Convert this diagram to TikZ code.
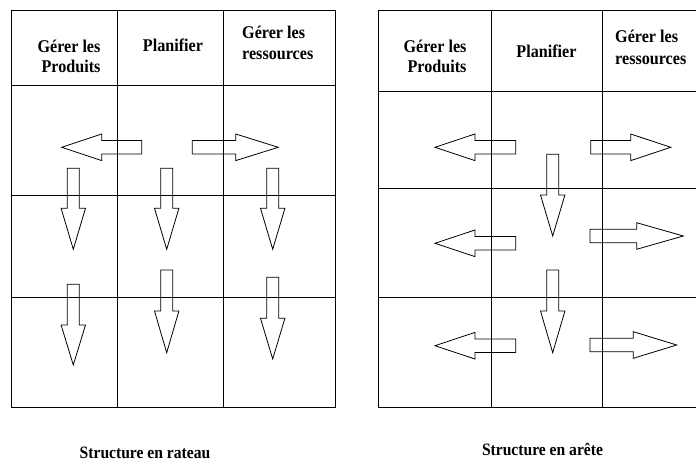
\documentclass[tikz,border=0pt]{standalone}
\usepackage{fontspec}
\setmainfont{Liberation Serif}
% bold serif set slightly condensed
\newcommand{\condensed}[1]{\scalebox{0.9}[1]{#1}}
\begin{document}
\begin{tikzpicture}[x=1bp,y=-1bp,
  gridline/.style={line width=0.8bp, black},
  blockarrow/.style={line width=0.8bp, black, line join=miter},
  head/.style={font=\bfseries\fontsize{18}{21}\selectfont, inner sep=0pt},
  caption/.style={font=\bfseries\fontsize{17.4}{20}\selectfont, inner sep=0pt}]
\useasboundingbox (0,0) rectangle (696,463);

% horizontal block arrow: tip (x,y), head base x, shaft end x
\newcommand{\hblock}[4]{%
  \draw[blockarrow] (#1,#2) -- (#3,{#2-13.3}) -- (#3,{#2-6.7}) -- (#4,{#2-6.7})
    -- (#4,{#2+6.7}) -- (#3,{#2+6.7}) -- (#3,{#2+13.3}) -- cycle;}
% vertical block arrow pointing down: tip (x,y), head base y, shaft top y
\newcommand{\vblock}[4]{%
  \draw[blockarrow] (#1,#2) -- ({#1-12.2},#3) -- ({#1-6},#3) -- ({#1-6},#4)
    -- ({#1+6},#4) -- ({#1+6},#3) -- ({#1+12.2},#3) -- cycle;}

% ---------- rake structure ----------
\draw[gridline] (11.7,10.5) rectangle (335,407);
\draw[gridline] (117,10.5) -- (117,407);
\draw[gridline] (223,10.5) -- (223,407);
\draw[gridline] (11.7,85) -- (335,85);
\draw[gridline] (11.7,195) -- (335,195);
\draw[gridline] (11.7,297) -- (335,297);

\node[head, anchor=base] (ra1) at (69,53) {\condensed{Gérer les}};
\node[head, anchor=base] (ra2) at (71,73) {\condensed{Produits}};
\node[head, anchor=base] (rb) at (173,52) {\condensed{Planifier}};
\node[head, anchor=base west] (rc1) at (242,39) {\condensed{Gérer les}};
\node[head, anchor=base west] (rc2) at (242,60) {\condensed{ressources}};

\hblock{61.7}{147.3}{101.7}{141.7}
\hblock{278.3}{147.3}{235.7}{192.3}
\vblock{73.3}{249.3}{208.3}{168.3}
\vblock{166.7}{249.3}{208.3}{168.3}
\vblock{272.7}{249.3}{208.3}{168.3}
\vblock{73.3}{365}{325}{284.3}
\vblock{166.7}{352.7}{311}{270}
\vblock{272.7}{359}{318.3}{277.3}

\node[caption, anchor=base] (rcap) at (145,458.5) {\condensed{Structure en rateau}};

% ---------- edge structure ----------
\draw[gridline] (696,10.5) -- (378,10.5) -- (378,407) -- (696,407);
\draw[gridline] (491,10.5) -- (491,407);
\draw[gridline] (602.5,10.5) -- (602.5,407);
\draw[gridline] (378,91.7) -- (696,91.7);
\draw[gridline] (378,188.3) -- (696,188.3);
\draw[gridline] (378,297.3) -- (696,297.3);

\node[head, anchor=base] (ea1) at (435,53) {\condensed{Gérer les}};
\node[head, anchor=base] (ea2) at (437,73) {\condensed{Produits}};
\node[head, anchor=base] (eb) at (546.5,58) {\condensed{Planifier}};
\node[head, anchor=base west] (ec1) at (615,43) {\condensed{Gérer les}};
\node[head, anchor=base west] (ec2) at (615,65) {\condensed{ressources}};

\hblock{435}{147.3}{475}{515.7}
\hblock{670.7}{147.3}{630.7}{590.7}
\vblock{552.7}{236}{195}{154.3}
\hblock{435}{243.3}{475}{515.7}
\hblock{683.3}{236}{636.7}{590}
\vblock{552.7}{352.7}{311}{270}
\hblock{435}{345.7}{475}{515.7}
\hblock{676.7}{345}{633.3}{590}

\node[caption, anchor=base] (ecap) at (542.5,455) {\condensed{Structure en arête}};
\end{tikzpicture}
\end{document}
